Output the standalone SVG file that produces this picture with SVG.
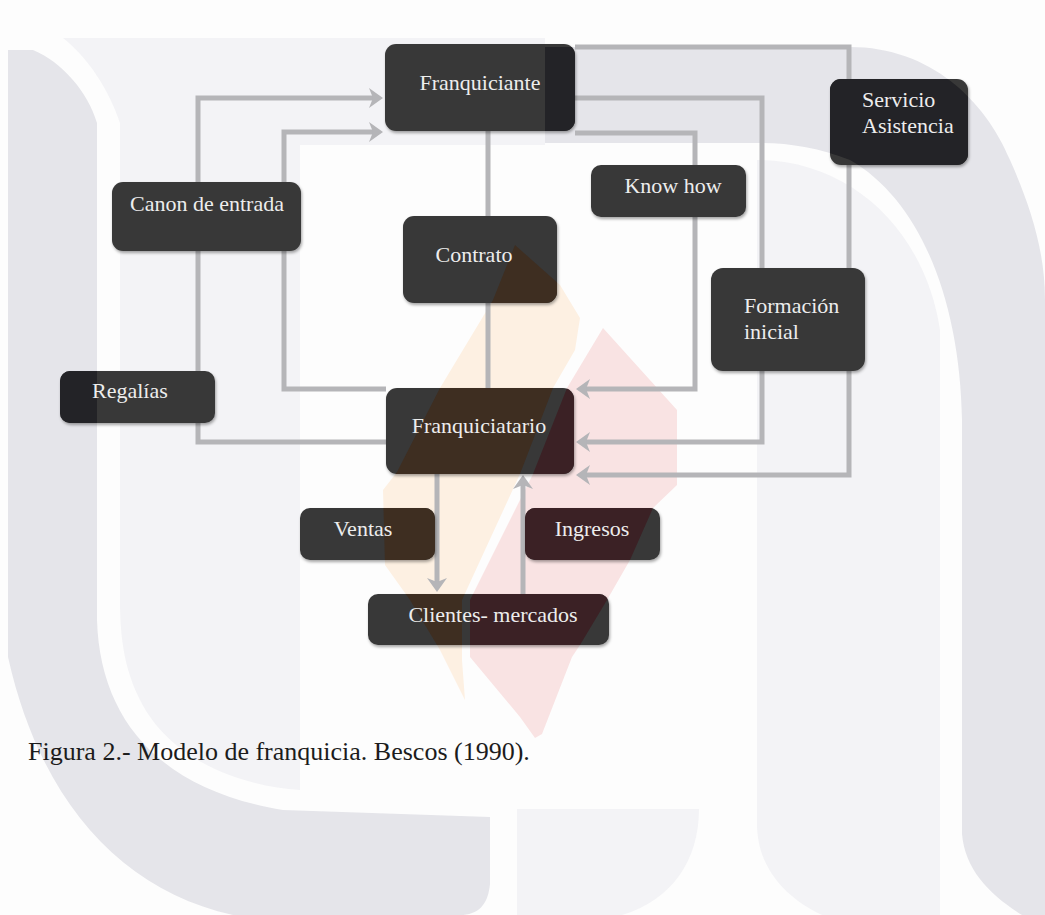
<svg xmlns="http://www.w3.org/2000/svg" xmlns:xlink="http://www.w3.org/1999/xlink" width="1045" height="915" viewBox="0 0 1045 915">
<style>
.box{fill:#383838}
.tg{fill:#232327}
.to{fill:#3e2e21}
.tp{fill:#3b2125}
.lbl{font-family:"Liberation Serif","Times New Roman",serif;font-size:22px;fill:#ededed}
.c{text-anchor:middle}
.conn path{fill:none;stroke:#b5b5b8;stroke-width:5;stroke-linejoin:miter}
.cap{font-family:"Liberation Serif","Times New Roman",serif;font-size:26px;fill:#1c1c1c}
</style>
<defs>
<path id="wmG1" d="M8,50 L33,50 C62,62 88,92 97,123 L97,620 C100,720 160,790 283,810 L490,817 L490,884 C488,905 478,915 460,915 L233,915 C120,890 40,800 8,657 Z"/>
<path id="wmG2" d="M545,47 L850,47 C930,47 985,100 1010,160 C1030,205 1045,250 1045,300 L1045,915 L1022,915 C990,895 965,870 962,834 L962,420 C960,300 920,200 850,160 C820,148 790,143 760,143 L545,143 Z"/>
<path id="wmL1" d="M63,38 L545,38 L545,145 L300,145 L300,790 C240,786 170,760 140,700 C125,670 120,640 120,600 L120,123 C108,88 88,58 63,38 Z"/>
<path id="wmL2" d="M757,160 C850,160 925,230 940,330 L940,915 L822,915 C789,900 757,870 757,824 Z"/>
<path id="wmL3" d="M517,809 L699,809 C699,860 672,900 622,915 L517,915 Z"/>
<path id="wmOr" d="M515,245 L560,285 L580,318 L575,350 L553,388 L520,474 L485,550 L462,600 L462,660 L465,700 L440,650 L410,600 L385,565 L383,490 L397,472 L440,388 L493,300 Z"/>
<path id="wmPk" d="M603,328 L677,410 L677,485 L653,508 L630,560 L607,600 L580,645 L572,657 L542,734 L535,738 L520,717 L470,657 L470,600 L500,540 L533,474 L567,388 Z"/>
<clipPath id="cGrey"><use xlink:href="#wmG1"/><use xlink:href="#wmG2"/></clipPath>
<clipPath id="cOr"><use xlink:href="#wmOr"/></clipPath>
<clipPath id="cPk"><use xlink:href="#wmPk"/></clipPath>
<filter id="sh" x="-10%" y="-10%" width="130%" height="140%">
<feDropShadow dx="1" dy="2" stdDeviation="1.5" flood-color="#000" flood-opacity="0.35"/>
</filter>
<marker id="ah" markerUnits="userSpaceOnUse" markerWidth="14" markerHeight="20" refX="4" refY="10" orient="auto" viewBox="0 0 14 20">
<path d="M0,0 L14,10 L0,20 L4,10 Z" fill="#b5b5b8"/>
</marker>
</defs>

<g id="watermark">
<rect x="0" y="0" width="1045" height="915" fill="#fdfdfd"/>
<use xlink:href="#wmL1" fill="#f3f3f6"/>
<use xlink:href="#wmL2" fill="#f3f3f6"/>
<use xlink:href="#wmL3" fill="#f3f3f6"/>
<use xlink:href="#wmG1" fill="#e5e5ea"/>
<use xlink:href="#wmG2" fill="#e5e5ea"/>
<use xlink:href="#wmOr" fill="#fdf0e2"/>
<use xlink:href="#wmPk" fill="#f9e3e3"/>
</g>

<g id="connectors" class="conn">
<path d="M386,442 L198,442 L198,98 L373,98" marker-end="url(#ah)"/>
<path d="M386,389 L284,389 L284,132 L373,132" marker-end="url(#ah)"/>
<path d="M488,131 L488,388"/>
<path d="M575,47 L849,47 L849,475 L586,475" marker-end="url(#ah)"/>
<path d="M575,98 L762,98 L762,442 L586,442" marker-end="url(#ah)"/>
<path d="M575,133 L695,133 L695,389 L586,389" marker-end="url(#ah)"/>
<path d="M437,474 L437,582" marker-end="url(#ah)"/>
<path d="M523,594 L523,485" marker-end="url(#ah)"/>
</g>

<g id="n-franquiciante">
<rect class="box" x="385" y="44" width="190" height="87" rx="11" filter="url(#sh)"/>
<rect class="tg" x="385" y="44" width="190" height="87" rx="11" clip-path="url(#cGrey)"/>
<text class="lbl c" x="480" y="90">Franquiciante</text>
</g>

<g id="n-canon">
<rect class="box" x="112" y="182" width="189" height="69" rx="11" filter="url(#sh)"/>
<text class="lbl c" x="207" y="211">Canon de entrada</text>
</g>

<g id="n-contrato">
<rect class="box" x="403" y="216" width="154" height="87" rx="11" filter="url(#sh)"/>
<rect class="to" x="403" y="216" width="154" height="87" rx="11" clip-path="url(#cOr)"/>
<text class="lbl c" x="474" y="262">Contrato</text>
</g>

<g id="n-knowhow">
<rect class="box" x="591" y="165" width="155" height="52" rx="10" filter="url(#sh)"/>
<text class="lbl c" x="673" y="193">Know how</text>
</g>

<g id="n-servicio">
<rect class="box" x="830" y="79" width="138" height="86" rx="11" filter="url(#sh)"/>
<rect class="tg" x="830" y="79" width="138" height="86" rx="11" clip-path="url(#cGrey)"/>
<text class="lbl" x="862" y="107">Servicio</text>
<text class="lbl" x="862" y="133">Asistencia</text>
</g>

<g id="n-formacion">
<rect class="box" x="711" y="268" width="154" height="103" rx="12" filter="url(#sh)"/>
<text class="lbl" x="744" y="313">Formación</text>
<text class="lbl" x="744" y="339">inicial</text>
</g>

<g id="n-regalias">
<rect class="box" x="60" y="371" width="155" height="52" rx="10" filter="url(#sh)"/>
<rect class="tg" x="60" y="371" width="155" height="52" rx="10" clip-path="url(#cGrey)"/>
<text class="lbl" x="92" y="398">Regalías</text>
</g>

<g id="n-franquiciatario">
<rect class="box" x="386" y="388" width="188" height="86" rx="11" filter="url(#sh)"/>
<rect class="to" x="386" y="388" width="188" height="86" rx="11" clip-path="url(#cOr)"/>
<rect class="tp" x="386" y="388" width="188" height="86" rx="11" clip-path="url(#cPk)"/>
<text class="lbl c" x="479" y="433">Franquiciatario</text>
</g>

<g id="n-ventas">
<rect class="box" x="300" y="508" width="135" height="52" rx="10" filter="url(#sh)"/>
<rect class="to" x="300" y="508" width="135" height="52" rx="10" clip-path="url(#cOr)"/>
<text class="lbl c" x="363" y="536">Ventas</text>
</g>

<g id="n-ingresos">
<rect class="box" x="525" y="508" width="135" height="52" rx="10" filter="url(#sh)"/>
<rect class="tp" x="525" y="508" width="135" height="52" rx="10" clip-path="url(#cPk)"/>
<text class="lbl c" x="592" y="536">Ingresos</text>
</g>

<g id="n-clientes">
<rect class="box" x="368" y="594" width="241" height="51" rx="10" filter="url(#sh)"/>
<rect class="to" x="368" y="594" width="241" height="51" rx="10" clip-path="url(#cOr)"/>
<rect class="tp" x="368" y="594" width="241" height="51" rx="10" clip-path="url(#cPk)"/>
<text class="lbl c" x="493" y="622">Clientes- mercados</text>
</g>

<text class="cap" x="28" y="760">Figura 2.- Modelo de franquicia. Bescos (1990).</text>
</svg>
